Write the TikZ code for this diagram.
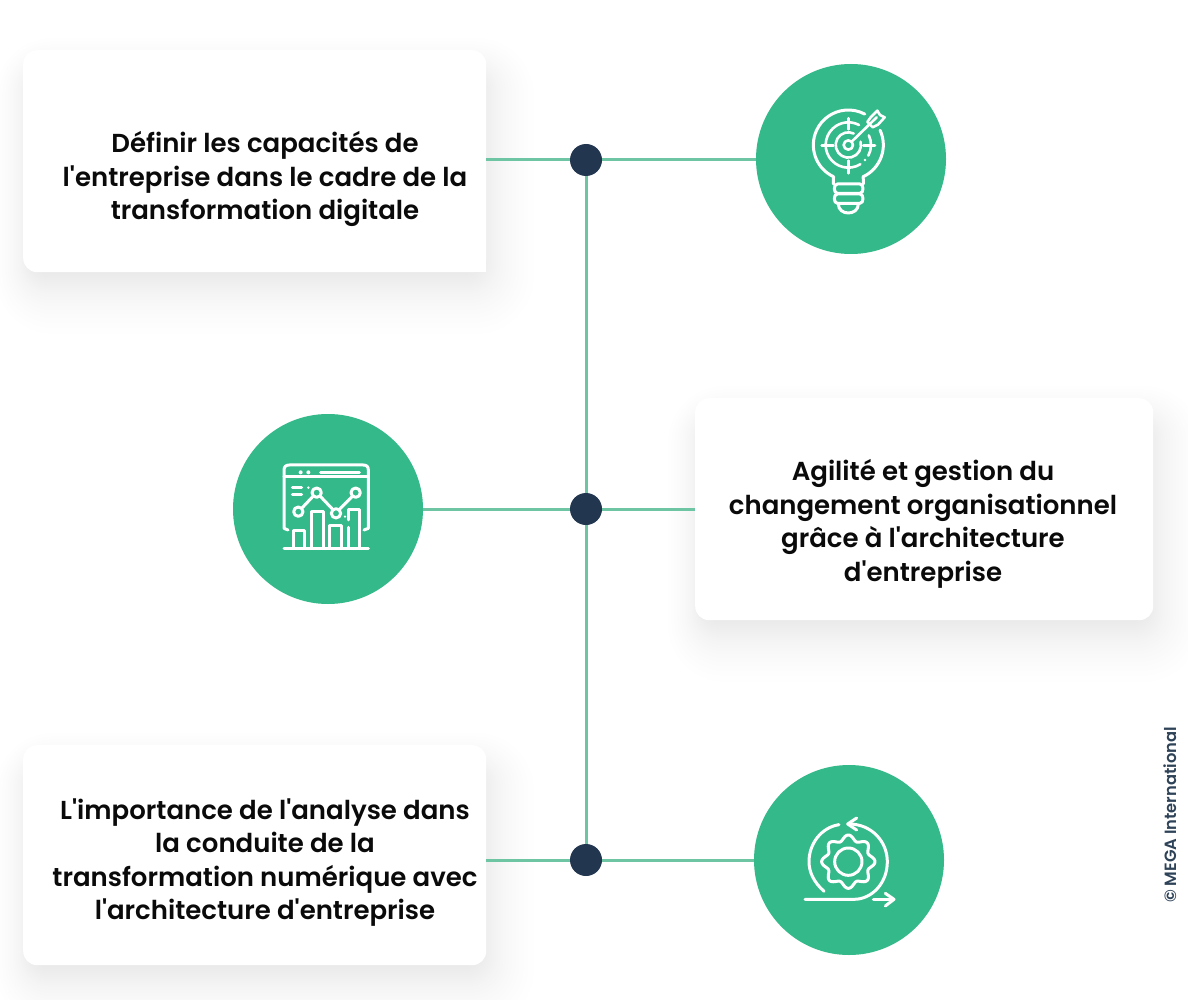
\documentclass[tikz,border=0pt]{standalone}
\usepackage{fontspec}
\setmainfont{Poppins}[BoldFont={Poppins SemiBold},Ligatures=TeXReset]
\usetikzlibrary{calc}
\definecolor{gr}{HTML}{34B98A}
\definecolor{ln}{HTML}{6EC5A3}
\definecolor{nv}{HTML}{22364F}
\definecolor{tx}{HTML}{0A0A0A}
\definecolor{cp}{HTML}{2F4358}
\newcommand{\softshadow}[4]{%
  \foreach \s in {62,56,51,46,42,38,34,31,28,25,22,20,18,16,14,12,10,8,6,4,2}{
    \fill[black,opacity=0.005,rounded corners={(14+0.7*\s)*1pt}]
      (#1+10-0.6*\s,#2+25-0.6*\s) rectangle (#3-8+0.9*\s,#4+\s);
  }}
\tikzset{
  cardbox/.style={fill=white,rounded corners=14pt,inner sep=0pt,anchor=north west},
  cardtext/.style={font=\fontsize{26}{33.5}\selectfont\bfseries,text=tx,align=center,inner sep=0pt},
  conn/.style={draw=ln,line width=3pt},
  hub/.style={circle,fill=nv,minimum size=32pt,inner sep=0pt},
  disc/.style={circle,fill=gr,minimum size=190pt,inner sep=0pt},
  ico/.style={draw=white,line width=3pt,line cap=round,line join=round},
  icothin/.style={draw=white,line width=2.6pt,line cap=round,line join=round}
}
\begin{document}
\begin{tikzpicture}[x=1pt,y=-1pt]
\useasboundingbox (0,0) rectangle (1188,1000);
\fill[white] (0,0) rectangle (1188,1000);
\softshadow{23}{50}{486}{272}
\softshadow{695}{398}{1153}{620}
\softshadow{23}{745}{486}{965}
\node[cardbox,minimum width=463pt,minimum height=222pt] (card1) at (23,50) {};
\fill[white] (460,240) rectangle (486,272);
\node[cardbox,minimum width=458pt,minimum height=222pt] (card2) at (695,398) {};
\node[cardbox,minimum width=463pt,minimum height=220pt] (card3) at (23,745) {};
\node[cardtext] (t1) at (265,179) {Définir les capacités de\\l'entreprise dans le cadre de la\\transformation digitale};
\node[cardtext] (t2) at (923,524) {Agilité et gestion du\\changement organisationnel\\grâce à l'architecture\\d'entreprise};
\node[cardtext] (t3) at (265,862.5) {L'importance de l'analyse dans\\la conduite de la\\transformation numérique avec\\l'architecture d'entreprise};
\node[disc] (d1) at (851,159) {};
\node[disc] (d2) at (328,509) {};
\node[disc] (d3) at (849,860) {};
\coordinate (h1) at (586,160);
\coordinate (h2) at (586,509);
\coordinate (h3) at (586,860);
\draw[conn] (h1) -- (h3);
\draw[conn] (h1 -| card1.east) -- (h1) -- (h1 -| d1.west);
\draw[conn] (d2.east) -- (h2) -- (h2 -| card2.west);
\draw[conn] (h3 -| card3.east) -- (h3) -- (d3.west);
\node[hub] (n1) at (h1) {};
\node[hub] (n2) at (h2) {};
\node[hub] (n3) at (h3) {};
% icon 1: lightbulb and target
\begin{scope}[shift={(780,80)},x=0.3333pt,y=-0.3333pt]
\coordinate (c1) at (205,195);
\draw[ico] (160,312) -- (160,300) -- ([shift={(115:105)}]c1) arc[start angle=115,end angle=298,radius=105];
\draw[ico] ([shift={(-25:105)}]c1) arc[start angle=-25,end angle=65,radius=105] -- (250,300) -- (250,312);
\draw[ico] (172,312) -- (240,312) .. controls (252,312) and (252,340) .. (240,340) -- (172,340) .. controls (160,340) and (160,312) .. (172,312);
\draw[ico] (172,342) -- (240,342) .. controls (252,342) and (252,370) .. (240,370) -- (172,370) .. controls (160,370) and (160,342) .. (172,342);
\draw[ico] (175,372) .. controls (175,408) and (235,408) .. (235,372);
\draw[icothin] (c1) circle (14);
\draw[icothin] ([shift={(-15:38)}]c1) arc[start angle=-15,end angle=295,radius=38];
\draw[icothin] ([shift={(58:68)}]c1) arc[start angle=58,end angle=298,radius=68];
\draw[icothin] ([shift={(-25:68)}]c1) arc[start angle=-25,end angle=28,radius=68];
\draw[icothin] (205,115) -- (205,148);
\draw[icothin] (205,242) -- (205,280);
\draw[icothin] (125,197) -- (160,197);
\draw[icothin] (250,197) -- (285,197);
\draw[icothin] (215,185) -- (290,112);
\draw[icothin] (262,126) -- (272,112) -- (292,92) -- (300,105) -- (314,112) -- (294,134) -- (278,142) -- cycle;
\fill[white] (255,240) circle (4);
\end{scope}
% icon 2: dashboard
\begin{scope}[shift={(260,440)},x=0.3333pt,y=-0.3333pt]
\draw[ico] (84,270) -- (72,265) -- (72,90) .. controls (72,80) and (78,75) .. (88,75) -- (310,75) .. controls (320,75) and (325,80) .. (325,90) -- (325,265) -- (312,270);
\draw[ico] (72,110) -- (325,110);
\fill[white] (122,97) circle (6);
\fill[white] (145,97) circle (6);
\draw[ico] (182,97) -- (298,97);
\draw[ico] (97,143) -- (125,143);
\draw[ico] (97,165) -- (125,165);
\fill[white] (145,143) circle (4);
\draw[ico] (127,203) -- (158,170);
\draw[ico] (182,170) -- (218,208);
\draw[ico] (238,208) -- (276,170);
\draw[ico] (115,215) circle (14);
\draw[ico] (170,158) circle (14);
\draw[ico] (228,220) circle (14);
\draw[ico] (287,158) circle (14);
\draw[ico] (100,325) -- (100,272) -- (135,272) -- (135,325);
\draw[ico] (155,325) -- (155,215) -- (190,215) -- (190,325);
\draw[ico] (210,325) -- (210,258) -- (245,258) -- (245,325);
\draw[ico] (265,325) -- (265,262);
\draw[ico] (265,240) -- (265,210) -- (300,210) -- (300,325);
\fill[white] (255,230) circle (4);
\draw[ico] (72,327) -- (325,327);
\end{scope}
% icon 3: gear cycle
\begin{scope}[shift={(780,790)},x=0.3333pt,y=-0.3333pt]
\draw[ico] (205,215) circle (41);
\draw[ico] plot[domain=0:360,samples=160,smooth] ({205+(72+8*cos(8*\x))*cos(\x)},{215+(72+8*cos(8*\x))*sin(\x)}) -- cycle;
\draw[ico] (132,304) .. controls (100,275) and (87,245) .. (87,215) .. controls (87,160) and (125,112) .. (177,104);
\draw[ico] (207,102) .. controls (275,102) and (322,155) .. (322,215) .. controls (322,280) and (275,328) .. (222,328) -- (75,328);
\draw[ico] (230,84) -- (203,102) -- (230,120);
\draw[ico] (280,328) -- (340,328);
\draw[ico] (316,310) -- (342,328) -- (316,348);
\end{scope}
\node[rotate=90,font=\fontsize{16.3}{16.3}\selectfont\bfseries,text=cp,inner sep=0pt] (copy) at (1170,815) {© MEGA International};
\end{tikzpicture}
\end{document}
